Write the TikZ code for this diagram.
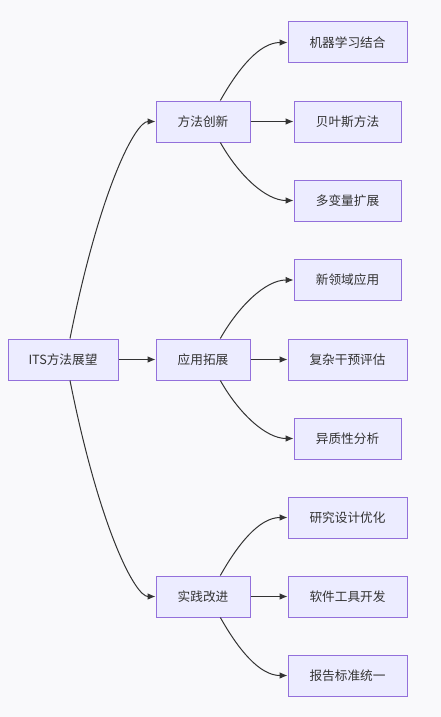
\documentclass[tikz,border=0pt]{standalone}
\usepackage{fontspec}
\setmainfont{Noto Sans CJK SC}
\usetikzlibrary{arrows.meta}
\definecolor{nodefill}{HTML}{ECECFF}
\definecolor{nodeborder}{HTML}{9370DB}
\definecolor{linecol}{HTML}{333333}
\definecolor{bgcol}{HTML}{F9F9FB}
\begin{document}
\begin{tikzpicture}[x=0.75pt,y=-0.75pt,
  box/.style={draw=nodeborder,fill=nodefill,line width=0.75pt,minimum height=30.75pt,inner sep=0pt,font=\fontsize{9.5pt}{11pt}\selectfont,text=linecol},
  wroot/.style={box,minimum width=82.5pt},
  wfour/.style={box,minimum width=70.5pt},
  wfive/.style={box,minimum width=80.25pt},
  wsix/.style={box,minimum width=89.25pt},
  conn/.style={draw=linecol,line width=0.75pt,-{Latex[length=6pt,width=5pt]}}]
\fill[bgcol] (0,0) rectangle (441,717);
\useasboundingbox (0,0) rectangle (441,717);

\node[wroot] (its) at (63,359.5) {ITS方法展望};
\node[wfour] (m) at (203,121.5) {方法创新};
\node[wfour] (a) at (203,359.5) {应用拓展};
\node[wfour] (p) at (203,596.5) {实践改进};

\node[wsix] (m1) at (347.5,42.5) {机器学习结合};
\node[wfive] (m2) at (347.5,121.5) {贝叶斯方法};
\node[wfive] (m3) at (347.5,200.5) {多变量扩展};
\node[wfive] (a1) at (347.5,280) {新领域应用};
\node[wsix] (a2) at (347.5,359.5) {复杂干预评估};
\node[wfive] (a3) at (347.5,438.5) {异质性分析};
\node[wsix] (p1) at (347.5,517.5) {研究设计优化};
\node[wsix] (p2) at (347.5,596.5) {软件工具开发};
\node[wsix] (p3) at (347.5,675.5) {报告标准统一};

% root edges
\draw[conn] ([xshift=5.25pt]its.north) .. controls +(30,-150) and +(-20,0) .. (m.west);
\draw[conn] (its.east) -- (a.west);
\draw[conn] ([xshift=5.25pt]its.south) .. controls +(30,150) and +(-20,0) .. (p.west);

% branch edges
\foreach \s/\t in {m/m1,a/a1,p/p1}{
  \draw[conn] ([xshift=13pt]\s.north) .. controls +(18,-32) and +(-28,0) .. (\t.west);
}
\foreach \s/\t in {m/m2,a/a2,p/p2}{
  \draw[conn] (\s.east) -- (\t.west);
}
\foreach \s/\t in {m/m3,a/a3,p/p3}{
  \draw[conn] ([xshift=13pt]\s.south) .. controls +(18,32) and +(-28,0) .. (\t.west);
}
\end{tikzpicture}
\end{document}
